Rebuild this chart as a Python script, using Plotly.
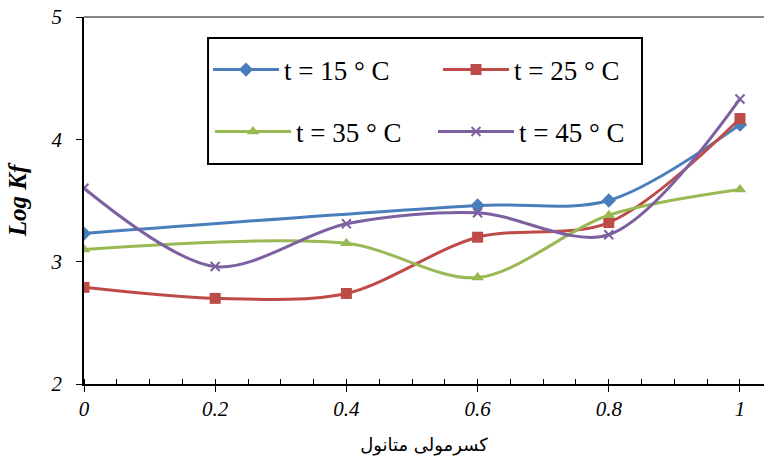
import plotly.graph_objects as go

# ---- data ----
x_15 = [0, 0.6, 0.8, 1]
y_15 = [3.23, 3.46, 3.50, 4.12]
x_25 = [0, 0.2, 0.4, 0.6, 0.8, 1]
y_25 = [2.79, 2.70, 2.74, 3.20, 3.32, 4.17]
x_35 = [0, 0.4, 0.6, 0.8, 1]
y_35 = [3.10, 3.15, 2.87, 3.38, 3.59]
x_45 = [0, 0.2, 0.4, 0.6, 0.8, 1]
y_45 = [3.60, 2.96, 3.31, 3.40, 3.22, 4.33]

names = ["t = 15 ° C", "t = 25 ° C", "t = 35 ° C", "t = 45 ° C"]
colors = ["#4A7EBB", "#BE4B48", "#98B954", "#7D60A0"]
symbols = ["diamond", "square", "triangle-up", "x-thin-open"]
legends = ["legend", "legend", "legend2", "legend2"]
x_ticks = [0, 0.2, 0.4, 0.6, 0.8, 1]
x_tick_text = ["0", "0.2", "0.4", "0.6", "0.8", "1"]
y_ticks = [2, 3, 4, 5]

series = [(x_15, y_15), (x_25, y_25), (x_35, y_35), (x_45, y_45)]

fig = go.Figure()
for (xs, ys), nm, c, s, lg in zip(series, names, colors, symbols, legends):
    fig.add_trace(go.Scatter(
        x=xs, y=ys, name=nm, mode="lines+markers",
        line=dict(color=c, width=3, shape="spline", smoothing=0.9),
        marker=dict(symbol=s, size=11 if s != "x-thin-open" else 9, color=c,
                    line=dict(color=c, width=2 if s == "x-thin-open" else 0)),
        legend=lg,
    ))

serif = "Liberation Serif"
legend_common = dict(
    orientation="h", xanchor="left", yanchor="middle",
    font=dict(family=serif, size=27, color="black"),
    bgcolor="rgba(0,0,0,0)", borderwidth=0,
)

fig.update_layout(
    width=764, height=459,
    margin=dict(l=84, r=0, t=17, b=75),
    paper_bgcolor="white", plot_bgcolor="white",
    showlegend=True,
    legend=dict(x=0.1824, y=0.8556, entrywidth=149, itemwidth=66, **legend_common),
    legend2=dict(x=0.1853, y=0.6866, entrywidth=132, itemwidth=76, **legend_common),
    xaxis=dict(
        range=[0, 1.0366], tickvals=x_ticks, ticktext=x_tick_text,
        automargin=False,
        showgrid=False, zeroline=False,
        showline=True, linecolor="black", linewidth=1.5,
        ticks="outside", ticklen=6, tickcolor="black", tickwidth=1,
        ticklabelstandoff=-1, ticklabeloverflow="allow",
        tickfont=dict(family=serif, size=21, style="italic", color="black"),
        minor=dict(dtick=0.05, tick0=0, ticks="inside", ticklen=5,
                   tickcolor="black", tickwidth=1, showgrid=False),
        title=dict(text="کسرمولی متانول", standoff=18,
                   font=dict(family="DejaVu Sans", size=18, color="black")),
    ),
    yaxis=dict(
        range=[2, 5], tickvals=y_ticks,
        automargin=False,
        showgrid=False, zeroline=False,
        showline=True, linecolor="black", linewidth=1.5,
        ticks="outside", ticklen=6, tickcolor="black", tickwidth=1,
        ticklabelstandoff=10, ticklabeloverflow="allow",
        tickfont=dict(family=serif, size=21, style="italic", color="black"),
        title=dict(text="Log Kf", standoff=17,
                   font=dict(family=serif, size=25, style="italic",
                             weight="bold", color="black")),
    ),
    shapes=[
        dict(type="line", xref="paper", yref="paper", x0=0, x1=1, y0=1, y1=1,
             line=dict(color="#868686", width=2), layer="below"),
        dict(type="rect", xref="paper", yref="paper",
             x0=0.1824, x1=0.8206, y0=0.5995, y1=0.9428,
             line=dict(color="black", width=2), fillcolor="rgba(0,0,0,0)"),
    ],
)

fig.write_html("out.html",
               config={"displayModeBar": False},
               post_script="document.body.style.margin='0';")
